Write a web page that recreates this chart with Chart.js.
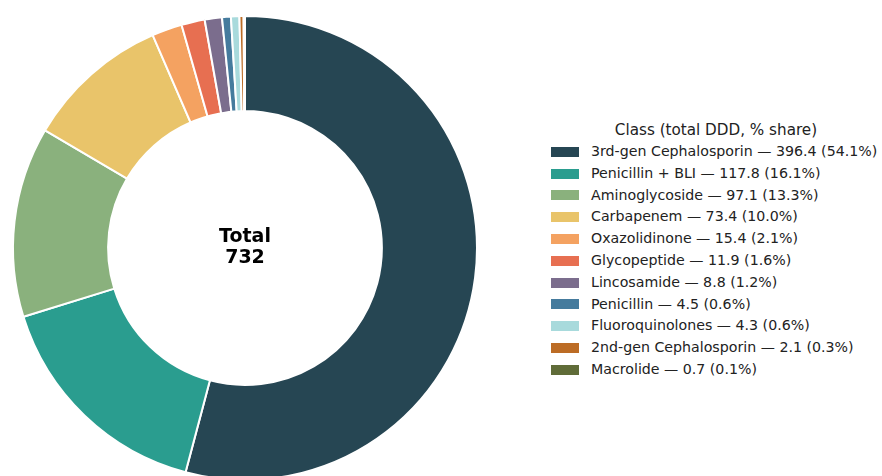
<!DOCTYPE html>
<html>
<head>
<meta charset="utf-8">
<script src="https://cdn.jsdelivr.net/npm/chart.js@4/dist/chart.umd.min.js"></script>
<style>
  html, body { margin: 0; padding: 0; background: #fff; }
  body { width: 882px; height: 476px; overflow: hidden; position: relative; font-family: "DejaVu Sans", sans-serif; }
  #pieWrap { position: absolute; left: 0; top: 0; width: 490px; height: 481px; }
  #legend { position: absolute; left: 551px; top: 119px; color: #222; font-size: 14.2px; }
  #legend .title { text-align: center; height: 22px; line-height: 22px; width: 330px; font-size: 15.2px; }
  #legend .item { height: 21.8px; line-height: 21.8px; white-space: nowrap; display: flex; align-items: center; }
  #legend .sw { width: 28px; height: 10px; margin-right: 12px; flex: none; }
</style>
</head>
<body>
<div id="pieWrap"><canvas id="pie"></canvas></div>
<div id="legend"></div>
<script>
// Antibiotic classes by total defined daily doses (DDD)
const classes = [
  "3rd-gen Cephalosporin", "Penicillin + BLI", "Aminoglycoside", "Carbapenem",
  "Oxazolidinone", "Glycopeptide", "Lincosamide", "Penicillin",
  "Fluoroquinolones", "2nd-gen Cephalosporin", "Macrolide"
];
const totalDDD = [396.4, 117.8, 97.1, 73.4, 15.4, 11.9, 8.8, 4.5, 4.3, 2.1, 0.7];
const shareLabels = ["54.1%", "16.1%", "13.3%", "10.0%", "2.1%", "1.6%", "1.2%", "0.6%", "0.6%", "0.3%", "0.1%"];
const colors = [
  "#264653", "#2a9d8f", "#8ab17d", "#e9c46a", "#f4a261", "#e76f51",
  "#7b6d8d", "#457b9d", "#a8dadc", "#bc6c25", "#606c38"
];
const legendTitle = "Class (total DDD, % share)";
const centerTitle = "Total";
const centerValue = "732";

// Centre label inside the doughnut hole
const centerText = {
  id: "centerText",
  afterDraw(chart) {
    const arc = chart.getDatasetMeta(0).data[0];
    if (!arc) return;
    const ctx = chart.ctx;
    ctx.save();
    ctx.fillStyle = "#000";
    ctx.textAlign = "center";
    ctx.textBaseline = "middle";
    ctx.font = "bold 19px 'DejaVu Sans', sans-serif";
    ctx.fillText(centerTitle, arc.x, arc.y - 11);
    ctx.fillText(centerValue, arc.x, arc.y + 10);
    ctx.restore();
  }
};

new Chart(document.getElementById("pie"), {
  type: "doughnut",
  data: {
    labels: classes,
    datasets: [{
      data: totalDDD,
      backgroundColor: colors,
      borderColor: "#ffffff",
      borderWidth: 2
    }]
  },
  options: {
    responsive: true,
    maintainAspectRatio: false,
    animation: false,
    cutout: "59%",
    layout: { padding: { left: 12, right: 12, top: 15, bottom: 0 } },
    plugins: { legend: { display: false }, tooltip: { enabled: false } }
  },
  plugins: [centerText]
});

// Legend built from the same arrays
const legend = document.getElementById("legend");
const t = document.createElement("div");
t.className = "title";
t.textContent = legendTitle;
legend.appendChild(t);
classes.forEach((name, i) => {
  const row = document.createElement("div");
  row.className = "item";
  const sw = document.createElement("span");
  sw.className = "sw";
  sw.style.background = colors[i];
  const txt = document.createElement("span");
  txt.textContent = name + " \u2014 " + totalDDD[i].toFixed(1) + " (" + shareLabels[i] + ")";
  row.appendChild(sw);
  row.appendChild(txt);
  legend.appendChild(row);
});
</script>
</body>
</html>
